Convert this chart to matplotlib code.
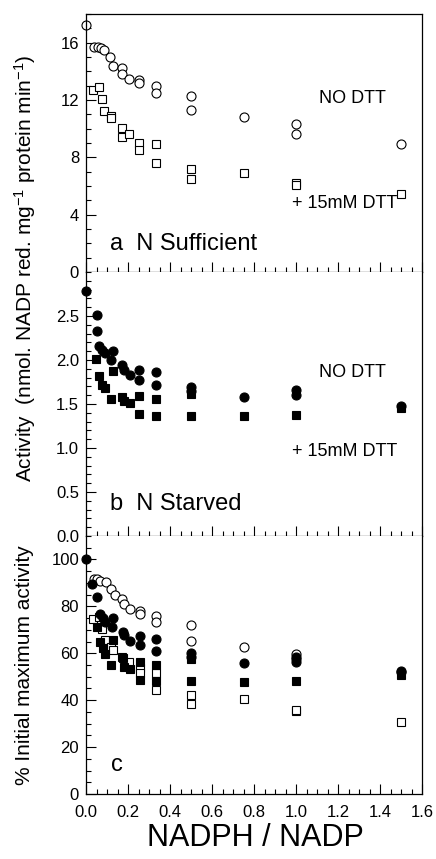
import numpy as np
import matplotlib
matplotlib.use("Agg")
from matplotlib import pyplot as plt
from matplotlib.ticker import MultipleLocator

plt.rcParams['font.family'] = ['Liberation Sans', 'DejaVu Sans']
plt.rcParams['mathtext.fontset'] = 'custom'
plt.rcParams['mathtext.rm'] = 'Liberation Sans'
plt.rcParams['mathtext.it'] = 'Liberation Sans:italic'
plt.rcParams['mathtext.default'] = 'regular'

# panel a: N sufficient (activity)
a_nodtt_x = [0, 0.04, 0.055, 0.07, 0.085, 0.115, 0.13, 0.17, 0.17, 0.205, 0.25, 0.25, 0.335, 0.335, 0.5, 0.5, 0.75, 1.0, 1.0, 1.5]
a_nodtt_y = [17.2, 15.7, 15.7, 15.6, 15.5, 15.0, 14.4, 14.2, 13.8, 13.5, 13.4, 13.2, 13.0, 12.5, 12.3, 11.3, 10.8, 10.3, 9.6, 8.9]
a_dtt_x = [0.035, 0.06, 0.075, 0.087, 0.118, 0.12, 0.17, 0.17, 0.205, 0.25, 0.25, 0.335, 0.335, 0.5, 0.5, 0.75, 1.0, 1.0, 1.5]
a_dtt_y = [12.7, 12.9, 12.1, 11.2, 10.85, 10.75, 10.05, 9.45, 9.6, 9.0, 8.5, 8.9, 7.6, 7.2, 6.5, 6.9, 6.2, 6.1, 5.45]

# panel b: N starved (activity)
b_nodtt_x = [0, 0.05, 0.05, 0.063, 0.075, 0.09, 0.12, 0.13, 0.17, 0.18, 0.21, 0.25, 0.25, 0.335, 0.335, 0.5, 0.5, 0.75, 1.0, 1.0, 1.5]
b_nodtt_y = [2.78, 2.51, 2.33, 2.16, 2.11, 2.08, 2.0, 2.1, 1.94, 1.89, 1.83, 1.89, 1.77, 1.86, 1.72, 1.69, 1.65, 1.58, 1.66, 1.60, 1.48]
b_dtt_x = [0.048, 0.063, 0.075, 0.09, 0.12, 0.13, 0.17, 0.18, 0.21, 0.25, 0.25, 0.335, 0.335, 0.5, 0.5, 0.75, 1.0, 1.5]
b_dtt_y = [2.01, 1.82, 1.72, 1.68, 1.56, 1.87, 1.58, 1.53, 1.51, 1.59, 1.39, 1.56, 1.36, 1.61, 1.36, 1.36, 1.37, 1.45]

# panel c: % of initial maximum activity
c_suff_nodtt_x = [0.04, 0.05, 0.065, 0.095, 0.12, 0.138, 0.17, 0.18, 0.21, 0.255, 0.255, 0.335, 0.335, 0.5, 0.5, 0.75, 1.0, 1.0, 1.5]
c_suff_nodtt_y = [91.5, 91.5, 91.0, 90.4, 87.6, 84.8, 83.1, 81.0, 78.9, 78.2, 76.8, 75.7, 73.3, 72.1, 65.3, 62.7, 59.9, 57.5, 52.2]
c_starv_nodtt_x = [0, 0.027, 0.05, 0.067, 0.08, 0.09, 0.122, 0.13, 0.175, 0.18, 0.21, 0.255, 0.255, 0.335, 0.335, 0.5, 0.5, 0.75, 1.0, 1.0, 1.5]
c_starv_nodtt_y = [100, 89.4, 83.8, 76.8, 75, 73.5, 71.2, 75, 69.1, 67.7, 65.3, 67.4, 63.4, 66.0, 61.1, 60.3, 58.5, 55.7, 58.5, 56.4, 52.6]
c_starv_dtt_x = [0.05, 0.067, 0.08, 0.09, 0.12, 0.13, 0.175, 0.18, 0.21, 0.255, 0.255, 0.335, 0.335, 0.5, 0.5, 0.75, 1.0, 1.5]
c_starv_dtt_y = [71.2, 64.8, 62.3, 59.9, 55.0, 65.6, 57.8, 54.3, 53.3, 56.4, 48.7, 55.0, 48.0, 57.5, 48.0, 47.7, 48.0, 50.8]
c_suff_dtt_x = [0.035, 0.06, 0.075, 0.09, 0.12, 0.13, 0.17, 0.205, 0.255, 0.255, 0.335, 0.335, 0.5, 0.5, 0.75, 1.0, 1.0, 1.5]
c_suff_dtt_y = [74.4, 75.5, 70.4, 65.6, 62.7, 61.5, 58.5, 56.4, 53.6, 51.5, 51.5, 44.5, 42.4, 38.2, 40.3, 35.4, 36.0, 30.9]

W, H = 436, 859
fig = plt.figure(figsize=(W/100, H/100), dpi=100)

left = 86/W
width = (422-86)/W
def make_ax(top, bottom):
    return fig.add_axes([left, 1-bottom/H, width, (bottom-top)/H])

ax_a = make_ax(14, 272)
ax_b = make_ax(272, 536)
ax_c = make_ax(536, 794)

open_c = dict(ls='none', marker='o', ms=6.5, mfc='white', mec='black', mew=0.8)
open_s = dict(ls='none', marker='s', ms=5.5, mfc='white', mec='black', mew=0.8)
fill_c = dict(ls='none', marker='o', ms=6.5, mfc='black', mec='black', mew=0.8)
fill_s = dict(ls='none', marker='s', ms=5.5, mfc='black', mec='black', mew=0.8)

ax_a.plot(a_nodtt_x, a_nodtt_y, **open_c, clip_on=False)
ax_a.plot(a_dtt_x, a_dtt_y, **open_s, clip_on=False)

ax_b.plot(b_nodtt_x, b_nodtt_y, **fill_c, clip_on=False)
ax_b.plot(b_dtt_x, b_dtt_y, **fill_s, clip_on=False)

ax_c.plot(c_suff_nodtt_x, c_suff_nodtt_y, **open_c, clip_on=False)
ax_c.plot(c_suff_dtt_x, c_suff_dtt_y, **open_s, clip_on=False)
ax_c.plot(c_starv_nodtt_x, c_starv_nodtt_y, **fill_c, clip_on=False)
ax_c.plot(c_starv_dtt_x, c_starv_dtt_y, **fill_s, clip_on=False)

ax_a.set_ylim(0, 18)
ax_a.set_yticks([0, 4, 8, 12, 16])
ax_a.yaxis.set_minor_locator(MultipleLocator(1))

ax_b.set_ylim(0, 3.0)
ax_b.set_yticks([0, 0.5, 1.0, 1.5, 2.0, 2.5])
ax_b.set_yticklabels(['0.0', '0.5', '1.0', '1.5', '2.0', '2.5'])
ax_b.yaxis.set_minor_locator(MultipleLocator(0.1))

ax_c.set_ylim(0, 110)
ax_c.set_yticks([0, 20, 40, 60, 80, 100])
ax_c.yaxis.set_minor_locator(MultipleLocator(5))

for ax in (ax_a, ax_b, ax_c):
    ax.set_xlim(0, 1.6)
    ax.xaxis.set_major_locator(MultipleLocator(0.2))
    ax.xaxis.set_minor_locator(MultipleLocator(0.05))
    ax.tick_params(which='both', direction='in', top=False, right=False,
                   labelsize=12, width=0.8, pad=5)
    ax.tick_params(which='major', length=7)
    ax.tick_params(which='minor', length=3.5)
    ax.tick_params(axis='x', pad=8)
    for s in ax.spines.values():
        s.set_linewidth(0.9)

ax_a.tick_params(labelbottom=False)
ax_b.tick_params(labelbottom=False)
ax_b.spines['top'].set_visible(False)
ax_c.spines['top'].set_visible(False)
ax_c.set_xticks(np.arange(0, 1.61, 0.2))
ax_c.set_xticklabels(['0.0', '0.2', '0.4', '0.6', '0.8', '1.0', '1.2', '1.4', '1.6'])

ax_a.text(1.267, 12.1, 'NO DTT', fontsize=13, ha='center', va='center')
ax_a.text(1.23, 4.8, '+ 15mM DTT', fontsize=13, ha='center', va='center')
ax_a.text(0.114, 1.55, 'a  N Sufficient', fontsize=17, ha='left', va='baseline')

ax_b.text(1.267, 1.86, 'NO DTT', fontsize=13, ha='center', va='center')
ax_b.text(1.23, 0.955, '+ 15mM DTT', fontsize=13, ha='center', va='center')
ax_b.text(0.114, 0.3, 'b  N Starved', fontsize=17, ha='left', va='baseline')

ax_c.text(0.148, 12.2, 'c', fontsize=17, ha='center', va='center')

fig.text(25/W, 1-268/H, 'Activity  (nmol. NADP red. mg$^{-1}$ protein min$^{-1}$)',
         rotation=90, fontsize=15, ha='center', va='center')
fig.text(25/W, 1-665/H, '% Initial maximum activity',
         rotation=90, fontsize=15, ha='center', va='center')
fig.text(255/W, 1-838/H, 'NADPH / NADP', fontsize=22, ha='center', va='center')

fig.savefig('out.png', dpi=100)
